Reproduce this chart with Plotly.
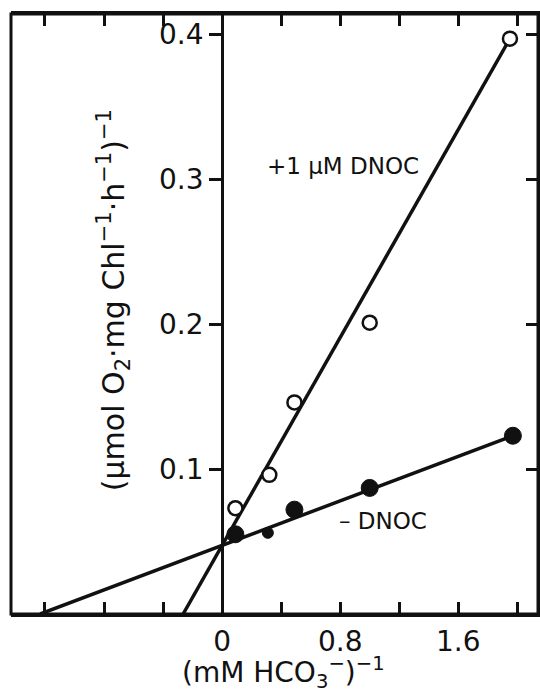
import plotly.graph_objects as go

# Lineweaver-Burk data: x = 1/[HCO3-] (mM^-1), y = 1/rate
x_plus = [0.09, 0.32, 0.49, 1.0, 1.95]
y_plus = [0.073, 0.096, 0.146, 0.201, 0.397]
x_minus = [0.09, 0.31, 0.49, 1.0, 1.97]
y_minus = [0.055, 0.056, 0.072, 0.087, 0.123]

# fitted regression lines (end points)
fit_plus_x = [-0.264, 1.95]
fit_plus_y = [0.0, 0.397]
fit_minus_x = [-1.232, 1.97]
fit_minus_y = [0.0, 0.123]

x_ticks = [-1.2, -0.8, -0.4, 0, 0.4, 0.8, 1.2, 1.6, 2.0]
x_ticktext = ["", "", "", "0", "", "0.8", "", "1.6", ""]
y_ticks = [0.1, 0.2, 0.3, 0.4]
y_ticktext = ["0.1", "0.2", "0.3", "0.4"]

X_RANGE = [-1.43, 2.14]
Y_RANGE = [0.0, 0.414]

FONT = "DejaVu Sans"
INK = "#111111"

fig = go.Figure()

fig.add_trace(go.Scatter(x=fit_plus_x, y=fit_plus_y, mode="lines",
                         line=dict(color=INK, width=3.5), hoverinfo="skip"))
fig.add_trace(go.Scatter(x=fit_minus_x, y=fit_minus_y, mode="lines",
                         line=dict(color=INK, width=3.5), hoverinfo="skip"))
fig.add_trace(go.Scatter(x=x_minus, y=y_minus, mode="markers",
                         marker=dict(symbol="circle", color=INK, opacity=1,
                                     size=[17, 11, 17, 17, 17],
                                     line=dict(color=INK, width=1))))
fig.add_trace(go.Scatter(x=x_plus, y=y_plus, mode="markers",
                         marker=dict(symbol="circle", color="white", size=14,
                                     opacity=1,
                                     line=dict(color=INK, width=2.5))))
# invisible trace so that the mirrored right axis is drawn
fig.add_trace(go.Scatter(x=x_plus[:1], y=y_plus[:1], mode="markers",
                         yaxis="y2", opacity=0, hoverinfo="skip"))

ypos = (0 - X_RANGE[0]) / (X_RANGE[1] - X_RANGE[0])

fig.update_layout(
    width=540, height=691,
    margin=dict(l=11, r=2, t=14, b=77),
    paper_bgcolor="white", plot_bgcolor="white",
    showlegend=False,
    font=dict(family=FONT, color=INK),
    xaxis=dict(range=X_RANGE, tickvals=x_ticks, ticktext=x_ticktext,
               ticks="inside", ticklen=12, tickwidth=3, tickcolor=INK,
               showline=True, linewidth=3, linecolor=INK, mirror="ticks",
               showgrid=False, zeroline=False,
               tickfont=dict(family=FONT, size=28, color=INK)),
    yaxis=dict(range=Y_RANGE, tickvals=y_ticks, ticktext=y_ticktext,
               anchor="free", position=ypos,
               ticks="outside", ticklen=12, tickwidth=3, tickcolor=INK,
               showline=True, linewidth=3, linecolor=INK,
               showgrid=False, zeroline=False,
               tickfont=dict(family=FONT, size=28, color=INK)),
    yaxis2=dict(range=Y_RANGE, tickvals=y_ticks, overlaying="y", side="right",
                anchor="x", ticks="inside", ticklen=12, tickwidth=3,
                tickcolor=INK, showticklabels=False,
                showline=True, linewidth=3, linecolor=INK,
                showgrid=False, zeroline=False),
    shapes=[dict(type="rect", xref="paper", yref="paper", x0=0, x1=1, y0=0, y1=1,
                 line=dict(color=INK, width=3), layer="above")],
    annotations=[
        dict(text="+1 μM DNOC", x=0.82, y=0.309, xref="x", yref="y",
             showarrow=False, font=dict(family=FONT, size=23, color=INK)),
        dict(text="– DNOC", x=1.09, y=0.064, xref="x", yref="y",
             showarrow=False, font=dict(family=FONT, size=23, color=INK)),
        dict(text="(mM HCO<sub>3</sub><sup>−</sup>)<sup>−1</sup>",
             x=0.517, y=-0.097, xref="paper", yref="paper",
             xanchor="center", yanchor="middle", showarrow=False,
             font=dict(family=FONT, size=28, color=INK)),
        dict(text="(μmol O<sub>2</sub>·mg Chl<sup>−1</sup>·h<sup>−1</sup>)<sup>−1</sup>",
             x=0.196, y=0.5235, xref="paper", yref="paper", textangle=-90,
             xanchor="center", yanchor="middle", showarrow=False,
             font=dict(family=FONT, size=30, color=INK)),
    ],
)

# remove the browser's default 8 px body margin so the 540x691 figure fits the window
fig.write_html("out.html",
               config={"displayModeBar": False},
               post_script="document.body.style.margin='0';"
                           "document.body.style.overflow='hidden';")
